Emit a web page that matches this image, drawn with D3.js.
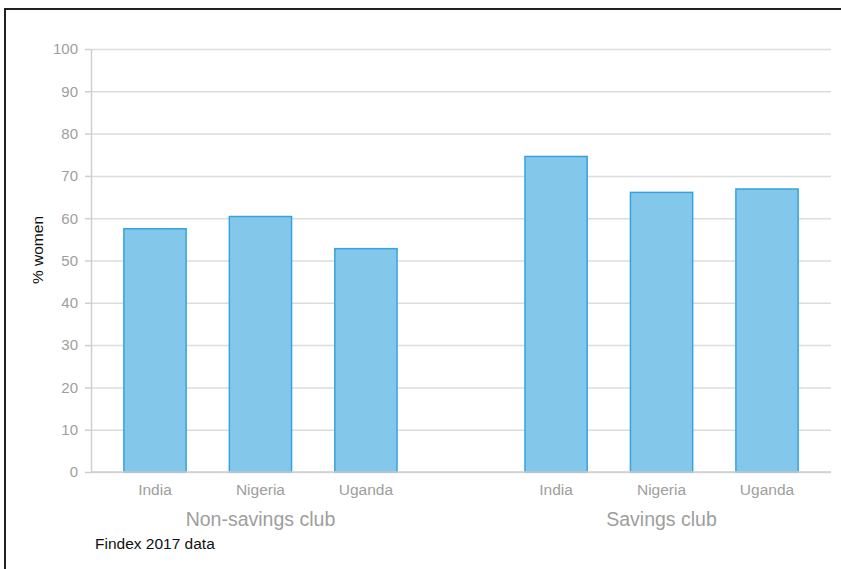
<!DOCTYPE html>
<html>
<head>
<meta charset="utf-8">
<script src="https://cdn.jsdelivr.net/npm/d3@7/dist/d3.min.js"></script>
<style>
  body { margin: 0; background: #fff; }
  svg { display: block; font-family: Arial, "Liberation Sans", sans-serif; }
  .grid line { stroke: #dcdcdc; stroke-width: 1.5; }
  .grid .domain { display: none; }
  .yaxis text { fill: #9e9e9e; font-size: 15px; }
  .yaxis line, .yaxis path { stroke: #cfcfcf; stroke-width: 1.5; }
</style>
</head>
<body>
<script>
  // chart data
  var groups = ["Non-savings club", "Savings club"];
  var countries = ["India", "Nigeria", "Uganda"];
  var nonSavings = [57.5, 60.4, 52.8];
  var savings = [74.6, 66.1, 66.9];
  var yTicks = [0, 10, 20, 30, 40, 50, 60, 70, 80, 90, 100];

  var seriesByGroup = [nonSavings, savings];

  const w = 841, h = 569;
  const padL = 91, padR = 831, padT = 49, padB = 472;

  var svg = d3.select("body").append("svg")
    .attr("width", w)
    .attr("height", h);

  // frame (top and left edges)
  svg.append("line").attr("x1", 4).attr("x2", w).attr("y1", 9).attr("y2", 9)
    .attr("stroke", "#222").attr("stroke-width", 2);
  svg.append("line").attr("x1", 5).attr("x2", 5).attr("y1", 8).attr("y2", h)
    .attr("stroke", "#222").attr("stroke-width", 2);

  var y = d3.scaleLinear().domain([0, 100]).range([padB, padT]);

  var x0 = d3.scaleBand().domain(groups).range([padL, padR])
    .paddingInner(0.319).paddingOuter(0.082);
  var x1 = d3.scaleBand().domain(countries).range([0, x0.bandwidth()])
    .paddingInner(0.41).paddingOuter(0);

  // gridlines
  svg.append("g").attr("class", "grid")
    .attr("transform", "translate(" + padL + ",0)")
    .call(d3.axisRight(y).tickValues(yTicks).tickSize(padR - padL).tickFormat(""));

  // y axis
  svg.append("g").attr("class", "yaxis")
    .attr("transform", "translate(" + padL + ",0)")
    .call(d3.axisLeft(y).tickValues(yTicks).tickSize(6).tickSizeOuter(0).tickPadding(7));

  svg.append("text")
    .attr("transform", "translate(43,250) rotate(-90)")
    .attr("text-anchor", "middle")
    .attr("font-size", 15.5)
    .attr("fill", "#111")
    .text("% women");

  // bars
  var g = svg.selectAll("g.group")
    .data(groups)
    .enter()
    .append("g")
    .attr("class", "group")
    .attr("transform", (d) => "translate(" + x0(d) + ",0)");

  g.selectAll("rect")
    .data((d, i) => countries.map((c, j) => ({ c: c, v: seriesByGroup[i][j] })))
    .enter()
    .append("rect")
    .attr("x", (d) => x1(d.c))
    .attr("y", (d) => y(d.v))
    .attr("width", x1.bandwidth())
    .attr("height", (d) => y(0) - y(d.v))
    .attr("fill", "#83c7ea")
    .attr("stroke", "#36a3de")
    .attr("stroke-width", 1.5);

  // country labels
  g.selectAll("text.cat")
    .data(countries)
    .enter()
    .append("text")
    .attr("class", "cat")
    .attr("x", (d) => x1(d) + x1.bandwidth() / 2)
    .attr("y", 495)
    .attr("text-anchor", "middle")
    .attr("font-size", 15.5)
    .attr("fill", "#9e9e9e")
    .text((d) => d);

  // group labels
  g.append("text")
    .attr("x", x0.bandwidth() / 2)
    .attr("y", 526)
    .attr("text-anchor", "middle")
    .attr("font-size", 19.5)
    .attr("fill", "#9e9e9e")
    .text((d) => d);

  svg.append("text")
    .attr("x", 95)
    .attr("y", 549)
    .attr("font-size", 15.5)
    .attr("fill", "#111")
    .text("Findex 2017 data");

  // zero baseline a bit stronger
  svg.append("line")
    .attr("x1", padL).attr("x2", padR)
    .attr("y1", y(0)).attr("y2", y(0))
    .attr("stroke", "#cfcfcf").attr("stroke-width", 1.5);
</script>
</body>
</html>
